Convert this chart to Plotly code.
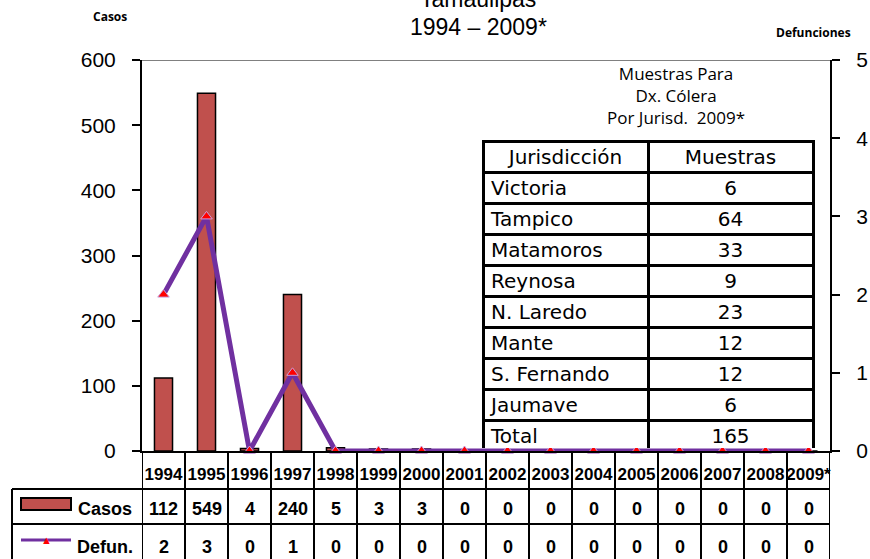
import plotly.graph_objects as go

# data
years = ["1994", "1995", "1996", "1997", "1998", "1999", "2000", "2001",
         "2002", "2003", "2004", "2005", "2006", "2007", "2008", "2009*"]
casos = [112, 549, 4, 240, 5, 3, 3, 0, 0, 0, 0, 0, 0, 0, 0, 0]
defun = [2, 3, 0, 1, 0, 0, 0, 0, 0, 0, 0, 0, 0, 0, 0, 0]

jurisdicciones = ["Victoria", "Tampico", "Matamoros", "Reynosa", "N. Laredo",
                  "Mante", "S. Fernando", "Jaumave", "Total"]
muestras = [6, 64, 33, 9, 23, 12, 12, 6, 165]

casos_ticks = [0, 100, 200, 300, 400, 500, 600]
defun_ticks = [0, 1, 2, 3, 4, 5]

W, H = 870, 559
L, R, T, B = 142, 40, 60, 108
pw, ph = W - L - R, H - T - B


def px(x):
    return (x - L) / pw


def py(y):
    return (H - B - y) / ph


BAR = "#C0504D"
PURPLE = "#7030A0"
ARIAL = "Liberation Sans, Arial, sans-serif"

fig = go.Figure()

fig.add_trace(go.Bar(x=years, y=casos, name="Casos",
                     marker=dict(color=BAR, line=dict(color="black", width=1.5)),
                     width=0.42))
fig.add_trace(go.Scatter(x=years, y=defun, name="Defun.", yaxis="y2",
                         mode="lines+markers", cliponaxis=False,
                         line=dict(color=PURPLE, width=5),
                         marker=dict(symbol="triangle-up", size=10, color="red",
                                     line=dict(color="#C9A0DC", width=1))))

# inset table
fig.add_trace(go.Table(
    domain=dict(x=[px(483), px(813)], y=[py(448), py(141)]),
    columnwidth=[165, 165],
    header=dict(values=["Jurisdicción", "Muestras"], align="center", height=31,
                fill_color="white", line=dict(color="black", width=3),
                font=dict(family="DejaVu Sans", size=20, color="black")),
    cells=dict(values=[jurisdicciones, muestras], align=["left", "center"], height=31,
               fill_color="white", line=dict(color="black", width=3),
               font=dict(family="DejaVu Sans", size=20, color="black"))))

shapes = []
# top border of plot area
shapes.append(dict(type="line", xref="paper", yref="y", x0=0, x1=1, y0=600, y1=600,
                   line=dict(color="#808080", width=2), layer="below"))
# data table grid under the x axis
bottom = py(575)
for k in range(len(years) + 1):
    shapes.append(dict(type="line", xref="x", yref="paper", x0=k - 0.5, x1=k - 0.5,
                       y0=0, y1=bottom, line=dict(color="black", width=2)))
for yy in (489, 524):
    shapes.append(dict(type="line", xref="paper", yref="paper", x0=px(12), x1=1,
                       y0=py(yy), y1=py(yy), line=dict(color="black", width=2)))
shapes.append(dict(type="line", xref="paper", yref="paper", x0=px(12), x1=px(12),
                   y0=py(489), y1=bottom, line=dict(color="black", width=2)))
# legend keys
shapes.append(dict(type="rect", xref="paper", yref="paper", x0=px(21), x1=px(71),
                   y0=py(498), y1=py(510), fillcolor=BAR, line=dict(color="black", width=2)))
shapes.append(dict(type="line", xref="paper", yref="paper", x0=px(21), x1=px(71),
                   y0=py(540), y1=py(540), line=dict(color=PURPLE, width=3)))

ann = []


def note(x, y, text, font, xref="paper"):
    ann.append(dict(x=x, y=y, xref=xref, yref="paper", text=text, showarrow=False,
                    xanchor="center", yanchor="middle", align="center", font=font))


bold18 = dict(family=ARIAL, size=18, color="black", weight="bold")
for i, (c, d) in enumerate(zip(casos, defun)):
    note(i, py(509), str(c), bold18, xref="x")
    note(i, py(547), str(d), bold18, xref="x")
note(px(105), py(509), "Casos", bold18)
note(px(105), py(547), "Defun.", bold18)
note(px(46), py(539), "▲", dict(size=11, color="red"))

# titles
title_font = dict(family=ARIAL, size=23, color="black")
note(px(478), py(-1), "Tamaulipas", title_font)
note(px(478), py(27), "1994 – 2009*", title_font)
small_bold = dict(family="Open Sans", size=12, color="black", weight="bold")
note(px(110), py(16), "Casos", small_bold)
note(px(813), py(32), "Defunciones", small_bold)
note(px(676), py(95), "Muestras Para<br>Dx. Cólera<br>Por Jurisd.\u00a0\u00a02009*",
     dict(family="Open Sans", size=17, color="black"))

fig.update_layout(
    width=W, height=H,
    margin=dict(l=L, r=R, t=T, b=B, autoexpand=False),
    paper_bgcolor="white", plot_bgcolor="white",
    showlegend=False,
    bargap=0.55,
    shapes=shapes,
    annotations=ann,
    xaxis=dict(type="category", range=[-0.5, len(years) - 0.5], showline=True,
               linecolor="black", linewidth=2, ticks="", showgrid=False,
               tickangle=0, automargin=False,
               tickfont=dict(family=ARIAL, size=17, color="black", weight="bold"),
               ticklabelstandoff=7),
    yaxis=dict(range=[0, 600], tickvals=casos_ticks, showline=True, linecolor="black",
               linewidth=2, ticks="outside", ticklen=8, tickwidth=2, tickcolor="black",
               showgrid=False, zeroline=False, ticklabelstandoff=12, automargin=False,
               tickfont=dict(family=ARIAL, size=21, color="black")),
    yaxis2=dict(range=[0, 5], tickvals=defun_ticks, overlaying="y", side="right",
                showline=True, linecolor="black", linewidth=2, ticks="outside",
                ticklen=8, tickwidth=2, tickcolor="black", showgrid=False,
                zeroline=False, ticklabelstandoff=12, automargin=False,
                tickfont=dict(family=ARIAL, size=21, color="black")),
)

# page margin off so the figure sits at the window's top-left corner
fig.write_html("out.html", config={"displayModeBar": False},
               post_script="document.body.style.margin = '0';")
